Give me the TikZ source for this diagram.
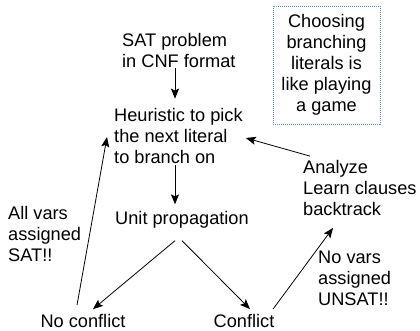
\documentclass[tikz,border=0pt]{standalone}
\usepackage{fontspec}
\setmainfont{Liberation Sans}
\usetikzlibrary{arrows.meta,calc}
\definecolor{boxblue}{RGB}{108,142,191}
\begin{document}
\begin{tikzpicture}[x=1pt,y=-1pt,
  txt/.style={inner sep=0pt,align=left,font=\fontsize{18.2}{21}\selectfont},
  ctxt/.style={inner sep=0pt,align=center,font=\fontsize{18.2}{21}\selectfont},
  arr/.style={-{Stealth[length=10pt,width=8pt,inset=2pt]},line width=0.8pt},
  notebox/.style={draw=boxblue,line width=0.9pt,dash pattern=on 1pt off 1pt,minimum width=107pt,minimum height=118pt,inner sep=0pt}]
\useasboundingbox (0,0) rectangle (420,330);
\node[txt,anchor=west] (sat) at (122,50) {SAT problem\\in CNF format};
\node[txt,anchor=west] (heur) at (114,135.5) {Heuristic to pick\\the next literal\\to branch on};
\node[txt,anchor=west] (unit) at (115,220) {Unit propagation};
\node[txt,anchor=west] (ana) at (303,188) {Analyze\\Learn clauses\\backtrack};
\node[txt,anchor=west] (allv) at (8,234) {All vars\\assigned\\SAT!!};
\node[txt,anchor=west] (nov) at (318,278) {No vars\\assigned\\UNSAT!!};
\node[txt] (noc) at (83,321) {No conflict};
\node[txt] (conf) at (244,321) {Conflict};
\node[notebox] (note) at (326.5,65) {};
\node[ctxt] (notetxt) at (326.5,65) {Choosing\\branching\\literals is\\like playing\\a game};
% connectors
\draw[arr] ($(sat.south west)+(53,1)$) -- ($(heur.north west)+(61,-9)$);
\draw[arr] ($(heur.south west)+(61,2)$) -- ($(unit.north west)+(60,-7)$);
\draw[arr] ($(unit.south west)+(60,12)$) -- ($(noc.north)+(10,-5)$);
\draw[arr] ($(unit.south west)+(67,12)$) -- ($(conf.north)+(6,-5)$);
\draw[arr] ($(noc.north)+(-6,-9)$) -- ($(heur.west)+(-7,1.5)$);
\draw[arr] ($(conf.north)+(29,-5)$) -- ($(ana.south west)+(30,12)$);
\draw[arr] ($(ana.north west)+(7,-4)$) -- ($(heur.east)+(3,2.5)$);
\end{tikzpicture}
\end{document}
